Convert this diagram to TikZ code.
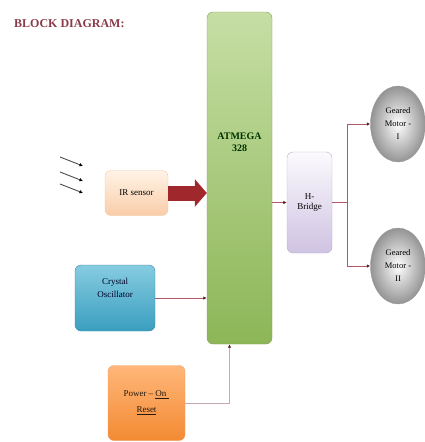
\documentclass[tikz,border=0pt]{standalone}
\usepackage{fontspec}
\setmainfont{Liberation Serif}
\usetikzlibrary{arrows.meta,shapes.geometric}
\definecolor{titlered}{HTML}{8B3A48}
\definecolor{connred}{HTML}{B05A68}
\definecolor{tipdark}{HTML}{5A1A22}
\definecolor{bigred}{HTML}{A0282C}
\definecolor{greentop}{HTML}{C6DEA4}
\definecolor{greenbot}{HTML}{8CB657}
\definecolor{greenline}{HTML}{7FA24E}
\definecolor{peachtop}{HTML}{FFF3E6}
\definecolor{peachbot}{HTML}{F9CDA8}
\definecolor{peachline}{HTML}{F2C9A6}
\definecolor{bluetop}{HTML}{86CCE0}
\definecolor{bluebot}{HTML}{3A9EC0}
\definecolor{blueline}{HTML}{3B8BA8}
\definecolor{orangetop}{HTML}{FFB779}
\definecolor{orangebot}{HTML}{F38A33}
\definecolor{orangeline}{HTML}{E9A070}
\definecolor{lavtop}{HTML}{FBFAFD}
\definecolor{lavbot}{HTML}{CFC3E2}
\definecolor{lavline}{HTML}{B8AECB}
\begin{document}
\begin{tikzpicture}[x=1pt,y=-1pt,
  box/.style={draw, rounded corners=6pt, inner sep=1pt, align=center,
    font=\fontsize{9}{11}\selectfont},
  conn/.style={draw=connred, line width=0.7pt,
    -{Latex[length=3.5pt,width=3.5pt,color=tipdark]}},
  ray/.style={draw=black!70, line width=0.9pt,
    -{Latex[length=3.5pt,width=3.5pt,color=black]}},
  bigarrow/.style={draw=bigred, line width=15pt,
    -{Triangle[length=12pt,width=27pt]}},
  motor/.style={ellipse, draw=black!40, inner color=white, outer color=black!42,
    minimum width=55pt, minimum height=76pt, inner sep=0pt, align=center,
    font=\fontsize{8.5}{13}\selectfont}
]
\useasboundingbox (0,0) rectangle (424,442);

\node[anchor=west, font=\bfseries\fontsize{12}{13}\selectfont, text=titlered, inner sep=0pt]
  (title) at (14,24) {BLOCK DIAGRAM:};

% main controller
\node[box, draw=greenline, top color=greentop, bottom color=greenbot,
  minimum width=65pt, minimum height=332pt] (atm) at (239.5,178) {};
\node[font=\bfseries\fontsize{10}{12}\selectfont, text=black!80!green, align=center]
  (atmtxt) at (239.5,142) {ATMEGA\\328};

% IR sensor
\node[box, draw=peachline, top color=peachtop, bottom color=peachbot,
  minimum width=63pt, minimum height=45pt] (ir) at (136.5,193) {IR sensor};

% crystal
\node[box, draw=blueline, top color=bluetop, bottom color=bluebot,
  minimum width=80pt, minimum height=66pt] (xtal) at (115,298) {};
\node[font=\fontsize{9}{13}\selectfont, align=center, text=black!85!blue] (xtaltxt) at (115,288) {Crystal\\Oscillator};

% power on reset
\node[box, draw=orangeline, top color=orangetop, bottom color=orangebot,
  minimum width=77pt, minimum height=75pt, font=\fontsize{9}{16}\selectfont, text=black!80!brown]
  (por) at (146.5,403) {Power – \underline{On\,\,}\\\underline{Reset}};

% H-bridge
\node[box, draw=lavline, top color=lavtop, bottom color=lavbot,
  minimum width=45pt, minimum height=101pt, font=\fontsize{9}{10.5}\selectfont]
  (hb) at (309.5,202.5) {H-\\Bridge};

% motors
\node[motor] (m1) at (398,124) {Geared\\Motor -\\I};
\node[motor] (m2) at (398,266) {Geared\\Motor -\\II};

% IR rays
\coordinate (r1a) at (60,157); \coordinate (r1b) at (83,166);
\coordinate (r2a) at (60,172); \coordinate (r2b) at (83,181);
\coordinate (r3a) at (60,184); \coordinate (r3b) at (83,193);
\draw[ray] (r1a) -- (r1b);
\draw[ray] (r2a) -- (r2b);
\draw[ray] (r3a) -- (r3b);

% connectors
\draw[bigarrow] (ir.east) -- (atm.west |- ir.east);
\draw[conn] (xtal.east) -- (atm.west |- xtal.east);
\draw[conn, draw=black!30!connred!45] (por.east) -| ([xshift=-10pt]atm.south);
\draw[conn] (atm.east |- hb.west) -- (hb.west);
\draw[conn] (hb.east) -- ++(15,0) |- (m1.west);
\draw[conn] (hb.east) -- ++(15,0) |- (m2.west);
\end{tikzpicture}
\end{document}
